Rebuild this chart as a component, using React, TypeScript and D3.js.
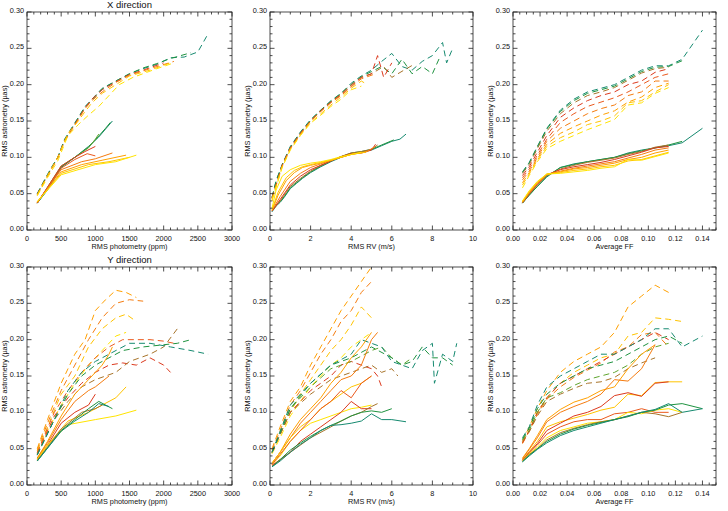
import React from 'react';
import * as d3 from 'd3';

// palette: yellow -> orange -> red -> brown -> green -> teal
const COLORS = ['#FFE400', '#FFC400', '#FFA000', '#F57C10', '#EB5A1E', '#DC3A1E', '#A8742A', '#5FA52E', '#1F9340', '#168A70'];

// filling-factor grid used by the FF panels
const FF = [0.007, 0.012, 0.018, 0.025, 0.035, 0.045, 0.055, 0.065, 0.075, 0.085, 0.095, 0.105, 0.115, 0.125, 0.14];

const Y_TICKS = [0, 0.05, 0.1, 0.15, 0.2, 0.25, 0.3];

// ---------- X direction ----------
const xPhotSolid: [number, number[][]][] = [
  [9, [[150, 0.037], [300, 0.055], [500, 0.086], [700, 0.1], [900, 0.115], [1050, 0.128], [1250, 0.15]]],
  [8, [[150, 0.037], [300, 0.056], [500, 0.087], [700, 0.1], [900, 0.114], [1000, 0.124], [1150, 0.14], [1220, 0.148]]],
  [7, [[150, 0.037], [500, 0.088], [700, 0.1], [900, 0.113], [1000, 0.125], [1050, 0.132]]],
  [5, [[150, 0.037], [500, 0.088], [700, 0.1], [850, 0.108], [1000, 0.115]]],
  [4, [[150, 0.038], [500, 0.085], [700, 0.097], [880, 0.105], [1000, 0.102]]],
  [3, [[150, 0.038], [500, 0.083], [800, 0.094], [1000, 0.098], [1250, 0.106]]],
  [2, [[150, 0.038], [500, 0.08], [800, 0.09], [1100, 0.096], [1450, 0.103]]],
  [1, [[150, 0.039], [500, 0.078], [900, 0.09], [1200, 0.094], [1500, 0.1]]],
  [0, [[150, 0.039], [500, 0.076], [1000, 0.09], [1300, 0.094], [1600, 0.103]]],
];
const xPhotDashed: [number, number[][]][] = [
  [9, [[150, 0.05], [250, 0.068], [350, 0.085], [450, 0.1], [550, 0.125], [650, 0.14], [750, 0.155], [850, 0.17], [950, 0.18], [1100, 0.195], [1300, 0.205], [1500, 0.215], [1700, 0.222], [1900, 0.228], [2100, 0.237], [2300, 0.238], [2500, 0.245], [2650, 0.27]]],
  [8, [[150, 0.05], [250, 0.067], [350, 0.084], [450, 0.1], [550, 0.124], [650, 0.139], [750, 0.154], [850, 0.169], [950, 0.179], [1100, 0.194], [1300, 0.205], [1500, 0.215], [1700, 0.223], [1900, 0.229], [2100, 0.236], [2400, 0.244]]],
  [5, [[150, 0.049], [250, 0.066], [350, 0.083], [450, 0.099], [550, 0.123], [650, 0.138], [750, 0.153], [850, 0.168], [950, 0.18], [1100, 0.193], [1300, 0.204], [1500, 0.214], [1700, 0.22], [2000, 0.23]]],
  [3, [[150, 0.048], [250, 0.066], [350, 0.082], [450, 0.1], [550, 0.122], [650, 0.137], [750, 0.152], [850, 0.167], [950, 0.178], [1100, 0.19], [1300, 0.203], [1500, 0.213], [1800, 0.222], [2150, 0.232]]],
  [1, [[150, 0.048], [300, 0.075], [450, 0.1], [600, 0.133], [750, 0.15], [850, 0.163], [950, 0.175], [1100, 0.188], [1300, 0.2], [1500, 0.212], [1800, 0.22], [2100, 0.23]]],
  [0, [[150, 0.047], [300, 0.072], [450, 0.095], [600, 0.13], [750, 0.145], [900, 0.158], [1050, 0.17], [1200, 0.185], [1350, 0.2], [1550, 0.21], [1900, 0.222], [2150, 0.23]]],
];
const xRvSolid: [number, number[][]][] = [
  [9, [[0.1, 0.025], [0.3, 0.033], [0.5, 0.038], [0.7, 0.045], [1, 0.057], [1.3, 0.064], [1.6, 0.071], [2, 0.079], [2.5, 0.087], [3, 0.094], [3.5, 0.1], [4, 0.105], [4.5, 0.107], [5, 0.11], [5.5, 0.116], [6, 0.122], [6.4, 0.125], [6.7, 0.132]]],
  [8, [[0.1, 0.026], [0.3, 0.034], [0.5, 0.039], [0.7, 0.046], [1, 0.058], [1.3, 0.065], [1.6, 0.072], [2, 0.08], [2.5, 0.088], [3, 0.095], [3.5, 0.101], [4, 0.106], [4.5, 0.108], [5, 0.111], [5.5, 0.117], [6.1, 0.124]]],
  [6, [[0.1, 0.026], [0.5, 0.04], [1, 0.06], [1.5, 0.071], [2, 0.081], [2.5, 0.089], [3, 0.095], [3.5, 0.101], [4, 0.106], [4.5, 0.108], [5, 0.111], [5.3, 0.117]]],
  [5, [[0.1, 0.026], [0.5, 0.042], [1, 0.062], [1.5, 0.074], [2, 0.083], [2.5, 0.089], [3, 0.095], [3.5, 0.101], [4, 0.105], [4.5, 0.106], [5, 0.11], [5.2, 0.118]]],
  [3, [[0.1, 0.027], [0.5, 0.046], [1, 0.067], [1.5, 0.078], [2, 0.086], [2.5, 0.091], [3, 0.096], [3.5, 0.1], [4, 0.104], [4.7, 0.107], [5.2, 0.115]]],
  [2, [[0.1, 0.027], [0.4, 0.048], [0.8, 0.068], [1.2, 0.079], [1.6, 0.086], [2, 0.089], [2.5, 0.092], [3, 0.096], [3.5, 0.1], [4, 0.104], [4.8, 0.108]]],
  [1, [[0.1, 0.028], [0.4, 0.052], [0.8, 0.072], [1.2, 0.082], [1.6, 0.087], [2, 0.09], [2.5, 0.093], [3, 0.096], [3.5, 0.1], [4, 0.104], [4.7, 0.107]]],
  [0, [[0.1, 0.03], [0.3, 0.055], [0.6, 0.074], [1, 0.083], [1.5, 0.089], [2, 0.092], [2.5, 0.094], [3, 0.097], [3.5, 0.101], [4, 0.104], [4.5, 0.107]]],
];
const xRvDashed: [number, number[][]][] = [
  [9, [[0.1, 0.045], [0.3, 0.068], [0.6, 0.09], [1, 0.115], [1.5, 0.135], [2, 0.152], [2.5, 0.165], [3, 0.178], [3.5, 0.188], [4, 0.202], [4.5, 0.212], [5, 0.22], [5.5, 0.232], [6, 0.243], [6.5, 0.225], [7, 0.22], [7.5, 0.232], [8, 0.24], [8.5, 0.258], [8.7, 0.23], [9, 0.25]]],
  [8, [[0.1, 0.045], [0.3, 0.067], [0.6, 0.09], [1, 0.114], [1.5, 0.134], [2, 0.151], [2.5, 0.165], [3, 0.177], [3.5, 0.188], [4, 0.2], [4.5, 0.211], [5, 0.218], [5.5, 0.225], [6, 0.215], [6.5, 0.235], [7, 0.215], [7.5, 0.225], [8, 0.215], [8.4, 0.24]]],
  [6, [[0.1, 0.044], [0.6, 0.089], [1, 0.113], [1.5, 0.133], [2, 0.15], [2.5, 0.164], [3, 0.176], [3.5, 0.187], [4, 0.2], [4.5, 0.21], [5, 0.215], [5.6, 0.225], [6, 0.21], [6.6, 0.22], [7.1, 0.228]]],
  [5, [[0.1, 0.044], [0.6, 0.089], [1, 0.113], [1.5, 0.133], [2, 0.15], [2.5, 0.164], [3, 0.176], [3.5, 0.186], [4, 0.198], [4.5, 0.21], [5, 0.215], [5.3, 0.24], [5.6, 0.21], [6, 0.23]]],
  [3, [[0.1, 0.043], [0.6, 0.088], [1, 0.112], [1.5, 0.132], [2, 0.15], [2.5, 0.163], [3, 0.175], [3.5, 0.185], [4, 0.197], [4.5, 0.208], [5.2, 0.215]]],
  [1, [[0.1, 0.042], [0.6, 0.087], [1, 0.111], [1.5, 0.131], [2, 0.148], [2.5, 0.16], [3, 0.172], [3.5, 0.183], [4, 0.195], [4.5, 0.205], [4.8, 0.2]]],
  [0, [[0.1, 0.04], [0.6, 0.086], [1, 0.11], [1.5, 0.13], [2, 0.147], [2.5, 0.158], [3, 0.17], [3.5, 0.18], [4, 0.193], [4.5, 0.198]]],
];
const xFfSolid: [number, number[]][] = [
  [9, [0.037, 0.048, 0.06, 0.073, 0.086, 0.091, 0.094, 0.097, 0.1, 0.106, 0.11, 0.113, 0.116, 0.12, 0.14]],
  [8, [0.037, 0.048, 0.06, 0.074, 0.086, 0.09, 0.094, 0.097, 0.1, 0.105, 0.109, 0.113, 0.117, 0.122]],
  [6, [0.037, 0.049, 0.062, 0.075, 0.084, 0.089, 0.093, 0.096, 0.099, 0.104, 0.108, 0.114, 0.117]],
  [5, [0.038, 0.05, 0.063, 0.076, 0.083, 0.087, 0.09, 0.093, 0.097, 0.102, 0.107, 0.113, 0.115]],
  [3, [0.038, 0.051, 0.064, 0.076, 0.081, 0.085, 0.088, 0.091, 0.094, 0.099, 0.104, 0.11, 0.113]],
  [2, [0.039, 0.052, 0.065, 0.077, 0.08, 0.084, 0.086, 0.089, 0.092, 0.097, 0.1, 0.106, 0.11]],
  [1, [0.039, 0.053, 0.066, 0.077, 0.079, 0.082, 0.084, 0.087, 0.089, 0.095, 0.097, 0.102, 0.107]],
  [0, [0.04, 0.054, 0.067, 0.077, 0.078, 0.08, 0.082, 0.085, 0.087, 0.097, 0.096, 0.101, 0.106]],
];
const xFfDashed: [number, number[]][] = [
  [9, [0.08, 0.093, 0.115, 0.14, 0.165, 0.18, 0.19, 0.195, 0.2, 0.21, 0.22, 0.226, 0.226, 0.235, 0.275]],
  [8, [0.079, 0.092, 0.114, 0.139, 0.163, 0.178, 0.188, 0.193, 0.198, 0.208, 0.218, 0.224, 0.225, 0.233]],
  [6, [0.078, 0.09, 0.112, 0.136, 0.16, 0.175, 0.185, 0.19, 0.196, 0.206, 0.216, 0.222, 0.224]],
  [5, [0.075, 0.087, 0.107, 0.13, 0.155, 0.168, 0.178, 0.185, 0.19, 0.2, 0.205, 0.217, 0.222]],
  [4, [0.072, 0.084, 0.103, 0.125, 0.148, 0.16, 0.17, 0.176, 0.182, 0.19, 0.2, 0.21, 0.215]],
  [3, [0.069, 0.081, 0.1, 0.122, 0.14, 0.15, 0.16, 0.167, 0.172, 0.185, 0.19, 0.205, 0.205]],
  [2, [0.065, 0.079, 0.098, 0.118, 0.133, 0.142, 0.15, 0.158, 0.164, 0.176, 0.183, 0.196, 0.202]],
  [1, [0.062, 0.077, 0.096, 0.115, 0.127, 0.135, 0.145, 0.15, 0.157, 0.175, 0.178, 0.19, 0.2]],
  [0, [0.058, 0.075, 0.094, 0.112, 0.122, 0.13, 0.138, 0.145, 0.152, 0.172, 0.175, 0.188, 0.196]],
];

// ---------- Y direction ----------
const yPhotSolid: [number, number[][]][] = [
  [2, [[150, 0.037], [300, 0.06], [500, 0.095], [700, 0.125], [900, 0.145], [1100, 0.165], [1200, 0.18], [1250, 0.19]]],
  [3, [[150, 0.037], [300, 0.058], [500, 0.09], [700, 0.115], [900, 0.13], [1000, 0.135], [1200, 0.15]]],
  [5, [[150, 0.036], [300, 0.055], [500, 0.085], [700, 0.1], [900, 0.11], [1000, 0.125]]],
  [1, [[150, 0.036], [300, 0.055], [600, 0.088], [900, 0.1], [1100, 0.11], [1300, 0.12], [1450, 0.135]]],
  [0, [[150, 0.035], [300, 0.055], [600, 0.083], [1000, 0.09], [1300, 0.095], [1600, 0.103]]],
  [6, [[150, 0.034], [500, 0.077], [800, 0.1], [1000, 0.105], [1100, 0.11]]],
  [8, [[150, 0.033], [500, 0.075], [700, 0.09], [900, 0.105], [1050, 0.115], [1250, 0.105]]],
  [9, [[150, 0.033], [500, 0.074], [700, 0.088], [900, 0.1], [1050, 0.112], [1200, 0.108]]],
];
const yPhotDashed: [number, number[][]][] = [
  [2, [[150, 0.05], [300, 0.09], [500, 0.14], [700, 0.18], [850, 0.2], [1000, 0.24], [1150, 0.255], [1300, 0.268], [1450, 0.265], [1600, 0.258]]],
  [3, [[150, 0.048], [300, 0.085], [500, 0.13], [700, 0.165], [900, 0.2], [1100, 0.23], [1300, 0.25], [1500, 0.255], [1700, 0.253]]],
  [1, [[150, 0.047], [300, 0.08], [500, 0.125], [700, 0.15], [900, 0.19], [1100, 0.215], [1300, 0.23], [1450, 0.235], [1600, 0.225]]],
  [0, [[150, 0.045], [300, 0.075], [500, 0.11], [700, 0.14], [900, 0.165], [1100, 0.185], [1300, 0.205], [1450, 0.21]]],
  [4, [[150, 0.045], [400, 0.1], [600, 0.13], [800, 0.155], [1000, 0.175], [1200, 0.19], [1400, 0.2], [1600, 0.2], [1800, 0.2], [2000, 0.198], [2150, 0.195]]],
  [5, [[150, 0.043], [400, 0.095], [600, 0.12], [800, 0.14], [1000, 0.155], [1200, 0.165], [1400, 0.168], [1600, 0.165], [1800, 0.175], [2000, 0.165], [2100, 0.155]]],
  [6, [[150, 0.042], [400, 0.09], [600, 0.115], [800, 0.135], [1000, 0.145], [1300, 0.155], [1500, 0.17], [1800, 0.18], [2000, 0.19], [2200, 0.215]]],
  [8, [[150, 0.042], [400, 0.09], [600, 0.125], [800, 0.15], [1000, 0.165], [1200, 0.175], [1400, 0.185], [1700, 0.19], [2000, 0.193], [2200, 0.195], [2400, 0.2]]],
  [9, [[150, 0.041], [400, 0.09], [600, 0.13], [800, 0.155], [1000, 0.17], [1200, 0.18], [1500, 0.195], [1800, 0.195], [2100, 0.19], [2400, 0.185], [2650, 0.18]]],
];
const yRvSolid: [number, number[][]][] = [
  [2, [[0.1, 0.03], [0.5, 0.045], [1, 0.07], [1.5, 0.09], [2, 0.105], [2.5, 0.12], [3, 0.14], [3.5, 0.155], [4, 0.175], [4.5, 0.19], [5, 0.21]]],
  [3, [[0.1, 0.03], [0.5, 0.045], [1, 0.065], [1.5, 0.085], [2, 0.1], [2.5, 0.115], [3, 0.13], [3.5, 0.145], [4, 0.15], [4.5, 0.165], [5, 0.2], [5.3, 0.21]]],
  [1, [[0.1, 0.03], [0.5, 0.045], [1, 0.065], [1.5, 0.08], [2, 0.09], [2.5, 0.105], [3, 0.115], [3.5, 0.125], [4, 0.135], [4.5, 0.14], [5, 0.15]]],
  [0, [[0.1, 0.028], [0.5, 0.04], [1, 0.06], [1.5, 0.075], [2, 0.085], [2.5, 0.09], [3, 0.095], [3.5, 0.1], [4, 0.105], [4.5, 0.107], [5, 0.11]]],
  [4, [[0.1, 0.028], [1, 0.06], [2, 0.09], [2.5, 0.105], [3, 0.115], [3.5, 0.13], [4, 0.12], [4.5, 0.14], [5, 0.15]]],
  [5, [[0.1, 0.027], [0.5, 0.035], [1, 0.045], [1.5, 0.06], [2, 0.07], [2.5, 0.08], [3, 0.09], [3.5, 0.1], [4, 0.115], [4.5, 0.105], [5, 0.105]]],
  [6, [[0.1, 0.026], [1, 0.045], [2, 0.065], [3, 0.08], [3.5, 0.088], [4, 0.095], [4.5, 0.1], [5, 0.108], [5.3, 0.112]]],
  [8, [[0.1, 0.025], [0.5, 0.035], [1, 0.048], [1.5, 0.058], [2, 0.067], [2.5, 0.075], [3, 0.082], [3.5, 0.088], [4, 0.095], [4.5, 0.1], [5, 0.102], [5.5, 0.1], [6, 0.105]]],
  [9, [[0.1, 0.025], [0.5, 0.033], [1, 0.045], [1.5, 0.056], [2, 0.065], [2.5, 0.075], [3, 0.082], [3.5, 0.083], [4, 0.085], [4.5, 0.088], [5, 0.098], [5.5, 0.09], [6, 0.09], [6.7, 0.087]]],
];
const yRvDashed: [number, number[][]][] = [
  [2, [[0.1, 0.05], [0.5, 0.08], [1, 0.115], [1.5, 0.135], [2, 0.165], [2.5, 0.19], [3, 0.215], [3.5, 0.24], [4, 0.26], [4.5, 0.28], [5, 0.3]]],
  [3, [[0.1, 0.048], [0.5, 0.075], [1, 0.11], [1.5, 0.13], [2, 0.155], [2.5, 0.18], [3, 0.2], [3.5, 0.225], [4, 0.24], [4.5, 0.265], [5, 0.28]]],
  [1, [[0.1, 0.045], [0.5, 0.07], [1, 0.1], [1.5, 0.125], [2, 0.145], [2.5, 0.165], [3, 0.185], [3.5, 0.2], [4, 0.22], [4.5, 0.245], [5, 0.23]]],
  [0, [[0.1, 0.043], [0.5, 0.065], [1, 0.095], [1.5, 0.115], [2, 0.135], [2.5, 0.15], [3, 0.165], [3.5, 0.175], [4, 0.19], [4.5, 0.2], [5, 0.21]]],
  [5, [[0.1, 0.045], [1, 0.1], [2, 0.13], [3, 0.15], [3.5, 0.165], [4, 0.17], [4.5, 0.165], [5, 0.16], [5.3, 0.15], [5.5, 0.135]]],
  [6, [[0.1, 0.045], [1, 0.1], [2, 0.125], [3, 0.145], [4, 0.155], [4.5, 0.16], [5, 0.165], [5.5, 0.155], [6, 0.16], [6.3, 0.15]]],
  [7, [[0.1, 0.045], [1, 0.105], [2, 0.135], [3, 0.16], [4, 0.17], [5, 0.185], [5.5, 0.19], [6, 0.175], [6.5, 0.165], [7, 0.175]]],
  [8, [[0.1, 0.045], [1, 0.105], [2, 0.14], [3, 0.165], [4, 0.175], [5, 0.19], [6, 0.175], [6.5, 0.165], [7, 0.17], [7.5, 0.19], [8, 0.175], [8.5, 0.175], [9, 0.165]]],
  [9, [[0.1, 0.045], [1, 0.11], [2, 0.14], [3, 0.165], [4, 0.18], [4.5, 0.2], [5, 0.195], [5.5, 0.19], [6, 0.17], [6.5, 0.165], [7, 0.16], [7.5, 0.185], [8, 0.195], [8.1, 0.14], [8.5, 0.18], [9, 0.17], [9.2, 0.195]]],
];
const yFfSolid: [number, number[]][] = [
  [2, [0.037, 0.05, 0.068, 0.09, 0.104, 0.114, 0.12, 0.13, 0.135, 0.16, 0.18, 0.193]],
  [3, [0.036, 0.049, 0.065, 0.087, 0.1, 0.108, 0.115, 0.125, 0.145, 0.143, 0.16, 0.193]],
  [1, [0.035, 0.046, 0.06, 0.08, 0.087, 0.092, 0.097, 0.103, 0.107, 0.125, 0.123, 0.141, 0.142, 0.142]],
  [5, [0.034, 0.045, 0.057, 0.075, 0.085, 0.095, 0.1, 0.108, 0.123, 0.127, 0.122, 0.14, 0.142]],
  [4, [0.034, 0.044, 0.055, 0.07, 0.08, 0.087, 0.09, 0.09, 0.098, 0.1, 0.105, 0.1, 0.1]],
  [0, [0.033, 0.043, 0.052, 0.065, 0.075, 0.08, 0.085, 0.087, 0.09, 0.1, 0.098, 0.103, 0.105, 0.1]],
  [6, [0.033, 0.042, 0.05, 0.062, 0.072, 0.078, 0.083, 0.087, 0.09, 0.095, 0.1, 0.098, 0.094, 0.1]],
  [8, [0.032, 0.041, 0.05, 0.06, 0.07, 0.077, 0.082, 0.086, 0.09, 0.094, 0.1, 0.103, 0.11, 0.112, 0.105]],
  [9, [0.032, 0.04, 0.049, 0.058, 0.068, 0.075, 0.08, 0.085, 0.09, 0.095, 0.1, 0.104, 0.112, 0.1, 0.105]],
];
const yFfDashed: [number, number[]][] = [
  [2, [0.06, 0.08, 0.105, 0.13, 0.155, 0.17, 0.18, 0.19, 0.21, 0.245, 0.26, 0.275, 0.265]],
  [1, [0.058, 0.075, 0.1, 0.12, 0.14, 0.155, 0.165, 0.175, 0.18, 0.205, 0.21, 0.23, 0.228, 0.225]],
  [3, [0.057, 0.074, 0.097, 0.118, 0.135, 0.148, 0.158, 0.168, 0.183, 0.19, 0.207, 0.21, 0.19]],
  [5, [0.058, 0.075, 0.1, 0.12, 0.14, 0.15, 0.16, 0.17, 0.18, 0.19, 0.2, 0.21, 0.2]],
  [9, [0.065, 0.08, 0.11, 0.135, 0.15, 0.16, 0.17, 0.18, 0.18, 0.19, 0.2, 0.215, 0.215, 0.19, 0.205]],
  [8, [0.063, 0.078, 0.105, 0.125, 0.14, 0.15, 0.16, 0.165, 0.17, 0.18, 0.19, 0.2, 0.205, 0.195]],
  [7, [0.062, 0.075, 0.1, 0.12, 0.127, 0.137, 0.145, 0.15, 0.155, 0.165, 0.18, 0.19, 0.195]],
  [6, [0.06, 0.073, 0.095, 0.115, 0.125, 0.133, 0.14, 0.142, 0.148, 0.16, 0.168, 0.175]],
];

const toFF = (rows: [number, number[]][]): [number, number[][]][] =>
  rows.map(([c, ys]) => [c, ys.map((v, i) => [FF[i], v])]);

const FONT = '"Liberation Sans", Arial, Helvetica, sans-serif';

type PanelProps = {
  left: number; right: number; top: number; bottom: number;
  xDomain: [number, number]; xMajor: number; xMinor: number; xFmt: (v: number) => string;
  xTitle: string; title?: string;
  solid: [number, number[][]][]; dashed: [number, number[][]][]; id: string;
};

function Panel(p: PanelProps) {
  const x = d3.scaleLinear().domain(p.xDomain).range([p.left, p.right]);
  const y = d3.scaleLinear().domain([0, 0.3]).range([p.bottom, p.top]);
  const line = d3.line<number[]>().x((d) => x(d[0])).y((d) => y(d[1]));
  const eps = 1e-9;
  const xMaj = d3.range(p.xDomain[0], p.xDomain[1] + eps, p.xMajor);
  const xMin = d3.range(p.xDomain[0], p.xDomain[1] + eps, p.xMinor);
  const yMin = d3.range(0, 0.3 + eps, 0.01);
  const axis = '#222';
  const MJ = 4.5, MN = 2.5;
  const cx = (p.left + p.right) / 2;
  const cy = (p.top + p.bottom) / 2;
  return (
    <g>
      <defs>
        <clipPath id={p.id}>
          <rect x={p.left} y={p.top} width={p.right - p.left} height={p.bottom - p.top} />
        </clipPath>
      </defs>
      <g clipPath={`url(#${p.id})`} fill="none" strokeWidth={1}>
        {p.dashed.map(([c, pts], i) => (
          <path key={'d' + i} d={line(pts) || ''} stroke={COLORS[c]} strokeDasharray="6,4" />
        ))}
        {p.solid.map(([c, pts], i) => (
          <path key={'s' + i} d={line(pts) || ''} stroke={COLORS[c]} />
        ))}
      </g>
      <rect x={p.left} y={p.top} width={p.right - p.left} height={p.bottom - p.top} fill="none" stroke={axis} strokeWidth={0.8} />
      <g stroke={axis} strokeWidth={0.8}>
        {xMin.map((v, i) => {
          const isMaj = xMaj.some((m) => Math.abs(m - v) < 1e-6);
          const L = isMaj ? MJ : MN;
          return (
            <g key={'xt' + i}>
              <line x1={x(v)} x2={x(v)} y1={p.bottom} y2={p.bottom - L} />
              <line x1={x(v)} x2={x(v)} y1={p.top} y2={p.top + L} />
            </g>
          );
        })}
        {yMin.map((v, i) => {
          const isMaj = Y_TICKS.some((m) => Math.abs(m - v) < 1e-6);
          const L = isMaj ? MJ : MN;
          return (
            <g key={'yt' + i}>
              <line x1={p.left} x2={p.left + L} y1={y(v)} y2={y(v)} />
              <line x1={p.right} x2={p.right - L} y1={y(v)} y2={y(v)} />
            </g>
          );
        })}
      </g>
      <g fontFamily={FONT} fontSize={7.3} fill="#111">
        {xMaj.map((v, i) => (
          <text key={'xl' + i} x={x(v)} y={p.bottom + 10.5} textAnchor="middle">{p.xFmt(v)}</text>
        ))}
        {Y_TICKS.map((v, i) => (
          <text key={'yl' + i} x={p.left - 3} y={y(v) + 1} textAnchor="end">{v.toFixed(2)}</text>
        ))}
        <text x={cx} y={p.bottom + 18.5} textAnchor="middle">{p.xTitle}</text>
        <text transform={`translate(${p.left - 20.5},${cy}) rotate(-90)`} textAnchor="middle">RMS astrometry (µas)</text>
      </g>
      {p.title && (
        <text x={cx} y={p.top - 4} textAnchor="middle" fontFamily={FONT} fontSize={9.5} fill="#111">{p.title}</text>
      )}
    </g>
  );
}

const fmtInt = (v: number) => String(Math.round(v));
const fmt2 = (v: number) => v.toFixed(2);

export default function App() {
  const cols = [
    { left: 27, right: 232, xDomain: [0, 3000] as [number, number], xMajor: 500, xMinor: 100, xFmt: fmtInt, xTitle: 'RMS photometry (ppm)' },
    { left: 270, right: 473, xDomain: [0, 10] as [number, number], xMajor: 2, xMinor: 0.5, xFmt: fmtInt, xTitle: 'RMS RV (m/s)' },
    { left: 513, right: 716, xDomain: [0, 0.15] as [number, number], xMajor: 0.02, xMinor: 0.005, xFmt: fmt2, xTitle: 'Average FF' },
  ];
  const rows = [
    { top: 12, bottom: 230, title: 'X direction', data: [[xPhotSolid, xPhotDashed], [xRvSolid, xRvDashed], [toFF(xFfSolid), toFF(xFfDashed)]] },
    { top: 267, bottom: 485, title: 'Y direction', data: [[yPhotSolid, yPhotDashed], [yRvSolid, yRvDashed], [toFF(yFfSolid), toFF(yFfDashed)]] },
  ];
  return (
    <svg width={728} height={511} style={{ position: 'absolute', left: 0, top: 0, background: '#fff' }}>
      <rect x={0} y={0} width={728} height={511} fill="#fff" />
      {rows.map((r, ri) =>
        cols.map((c, ci) => (
          <Panel
            key={`${ri}-${ci}`}
            id={`clip-${ri}-${ci}`}
            left={c.left} right={c.right} top={r.top} bottom={r.bottom}
            xDomain={c.xDomain} xMajor={c.xMajor} xMinor={c.xMinor} xFmt={c.xFmt}
            xTitle={c.xTitle} title={ci === 0 ? r.title : undefined}
            solid={r.data[ci][0] as [number, number[][]][]}
            dashed={r.data[ci][1] as [number, number[][]][]}
          />
        ))
      )}
    </svg>
  );
}
